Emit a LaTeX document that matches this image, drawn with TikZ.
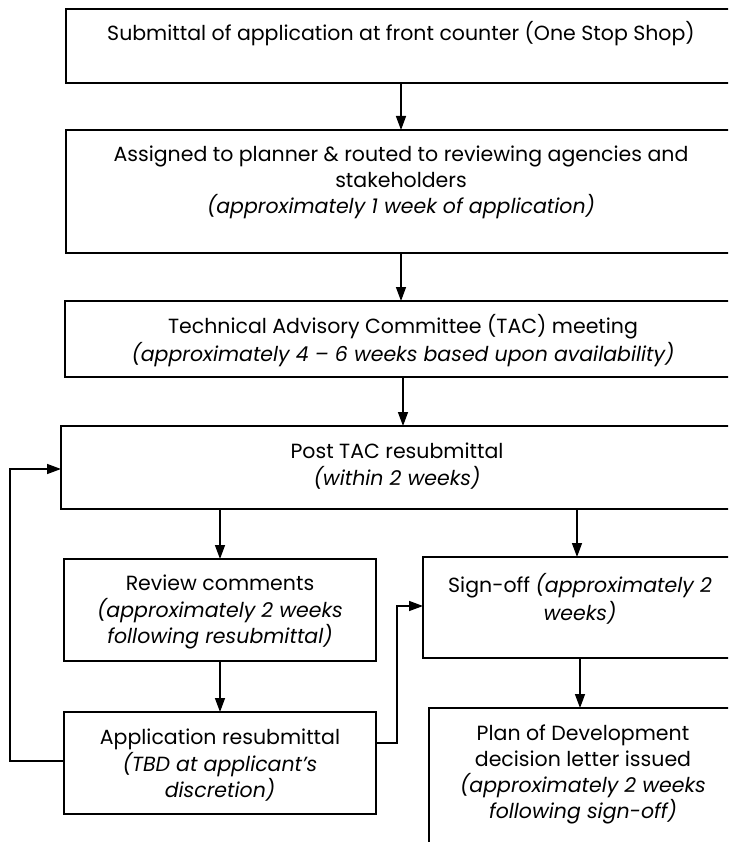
\documentclass[tikz,border=0pt]{standalone}
\usepackage{fontspec}
\setmainfont{Poppins}
\usetikzlibrary{arrows.meta}
\newcommand{\bxt}[4]{\parbox[t][#2][t]{#1}{\centering\vspace*{#3}\strut #4\par}}
\tikzset{
  box/.style={draw=black, line width=1.8pt, inner sep=0pt, outer sep=0pt, anchor=north west,
    font=\fontsize{20.5}{26}\selectfont},
  arr/.style={line width=1.4pt, -{Triangle[length=14pt,width=10pt]}},
}
\begin{document}
\begin{tikzpicture}[x=1pt,y=-1pt]
\useasboundingbox (0,0) rectangle (728,842);
\fill[white] (0,0) rectangle (728,842);
\clip (0,0) rectangle (728,842);
\node[box] (b1) at (66,9) {\bxt{670pt}{74pt}{12.8pt}{Submittal of application at front counter (One Stop Shop)}};
\node[box] (b2) at (66,130) {\bxt{670pt}{123pt}{13.8pt}{Assigned to planner \& routed to reviewing agencies and\\ stakeholders\\ \textit{(approximately 1 week of application)}}};
\node[box] (b3) at (65,301) {\bxt{676pt}{76pt}{13.8pt}{Technical Advisory Committee (TAC) meeting\\ \textit{(approximately 4 -- 6 weeks based upon availability)}}};
\node[box] (b4) at (61,426) {\bxt{672pt}{83pt}{13.8pt}{Post TAC resubmittal\\ \textit{(within 2 weeks)}}};
\node[box] (rv) at (64,559) {\bxt{312pt}{102pt}{12.8pt}{Review comments\\ \textit{(approximately 2 weeks}\\ \textit{following resubmittal)}}};
\node[box] (so) at (423,557) {\bxt{314pt}{101pt}{16.8pt}{Sign-off \textit{(approximately 2}\\ \textit{weeks)}}};
\node[box] (ap) at (64,712) {\bxt{312pt}{102pt}{13.8pt}{Application resubmittal\\ \textit{(TBD at applicant's}\\ \textit{discretion)}}};
\node[box] (pl) at (429,708) {\bxt{308pt}{170pt}{13.8pt}{Plan of Development\\ decision letter issued\\ \textit{(approximately 2 weeks}\\ \textit{following sign-off)}}};
\coordinate (xa) at (401,0);
\coordinate (xb) at (403,0);
\coordinate (xl) at (220,0);
\coordinate (xr) at (577,0);
\coordinate (xs) at (580,0);
\coordinate (xj) at (397,0);
\coordinate (xf) at (10,0);
\coordinate (yf) at (0,469);
\coordinate (yfa) at (0,761);
\coordinate (yj) at (0,743);
\coordinate (ys) at (0,606);
\draw[arr] (xa |- b1.south) -- (xa |- b2.north);
\draw[arr] (xa |- b2.south) -- (xa |- b3.north);
\draw[arr] (xb |- b3.south) -- (xb |- b4.north);
\draw[arr] (xl |- b4.south) -- (xl |- rv.north);
\draw[arr] (xr |- b4.south) -- (xr |- so.north);
\draw[arr] (xl |- rv.south) -- (xl |- ap.north);
\draw[arr] (xs |- so.south) -- (xs |- pl.north);
\draw[arr] (ap.west |- yfa) -- (xf |- yfa) -- (xf |- yf) -- (b4.west |- yf);
\draw[arr] (ap.east |- yj) -- (xj |- yj) -- (xj |- ys) -- (so.west |- ys);
\end{tikzpicture}
\end{document}
